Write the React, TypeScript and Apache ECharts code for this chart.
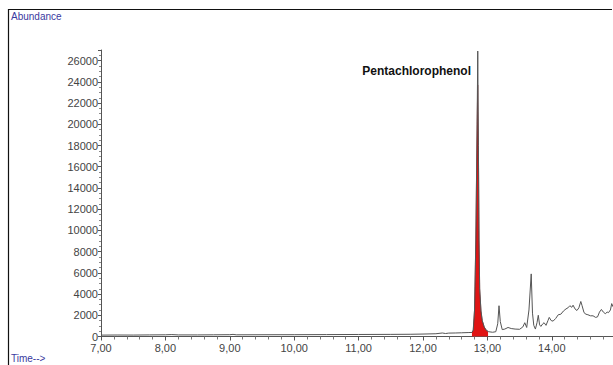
import React, { useEffect, useRef } from "react";
import * as echarts from "echarts";

const yTicks = [0, 2000, 4000, 6000, 8000, 10000, 12000, 14000, 16000, 18000, 20000, 22000, 24000, 26000];
const xTicks = [7, 8, 9, 10, 11, 12, 13, 14];

// Total ion chromatogram (time in min, abundance)
const baselineTimes = [7.0, 7.25, 7.5, 7.75, 8.0, 8.1, 8.2, 8.5, 8.75, 9.0, 9.05, 9.1, 9.5, 10.0, 10.5, 11.0, 11.5, 11.8, 12.0, 12.2, 12.3, 12.35, 12.4, 12.5, 12.6, 12.7];
const baselineValues = [130, 140, 135, 150, 160, 180, 150, 150, 160, 170, 200, 160, 165, 170, 180, 190, 200, 210, 230, 260, 330, 280, 320, 330, 350, 370];

const peakTimes = [12.76, 12.78, 12.8, 12.82, 12.84, 12.85, 12.86, 12.87, 12.88, 12.9, 12.92, 12.95, 12.98, 13.02, 13.08, 13.13, 13.16, 13.18, 13.2, 13.23];
const peakValues = [380, 600, 2500, 9000, 20000, 26900, 18000, 9000, 4500, 2400, 1500, 900, 600, 450, 400, 450, 1200, 2900, 1400, 650];

const tailTimes = [13.27, 13.32, 13.37, 13.43, 13.5, 13.55, 13.58, 13.61, 13.645, 13.68, 13.7, 13.72, 13.745, 13.77, 13.79, 13.81, 13.83, 13.86, 13.88, 13.91, 13.94, 13.96, 13.99, 14.02, 14.06, 14.1, 14.14, 14.18, 14.22, 14.25, 14.28, 14.31, 14.33, 14.36, 14.39, 14.42, 14.45, 14.47, 14.5, 14.53, 14.56, 14.6, 14.64, 14.68, 14.71, 14.74, 14.77, 14.8, 14.83, 14.86, 14.88, 14.91, 14.93, 14.95];
const tailValues = [700, 850, 750, 700, 680, 900, 1300, 850, 2500, 5900, 2200, 1050, 700, 1300, 2000, 1100, 950, 1200, 1300, 1050, 1500, 1800, 1500, 1450, 1700, 2050, 2100, 2400, 2600, 2700, 2900, 2750, 2950, 2600, 2450, 2700, 3300, 2900, 2250, 2100, 2050, 1950, 1950, 1800, 1850, 2300, 2550, 2300, 2150, 2300, 2250, 2500, 3100, 2800];

// Integrated (filled) region of the Pentachlorophenol peak
const fillTimes = [12.76, 12.78, 12.8, 12.82, 12.84, 12.85, 12.86, 12.87, 12.88, 12.9, 12.92, 12.95, 12.98, 13.01];
const fillValues = [380, 600, 2500, 9000, 20000, 23700, 18000, 9000, 4500, 2400, 1500, 900, 600, 450];

const peakLabel = "Pentachlorophenol";

export default function App() {
  const ref = useRef<HTMLDivElement>(null);
  useEffect(() => {
    if (!ref.current) return;
    const chart = echarts.init(ref.current, undefined, { renderer: "svg" });
    const times = [...baselineTimes, ...peakTimes, ...tailTimes];
    const values = [...baselineValues, ...peakValues, ...tailValues];
    const lineData = times.map((t, i) => [t, values[i]]);
    const fillData = fillTimes.map((t, i) => [t, fillValues[i]]);
    const font = "'Liberation Sans', Arial, sans-serif";
    chart.setOption({
      animation: false,
      grid: { left: 101, right: 0, top: 50, bottom: 28.5 },
      xAxis: {
        type: "value",
        min: 7,
        max: 14.95,
        interval: 1,
        axisLine: { show: true, lineStyle: { color: "#555", width: 1 } },
        axisTick: { show: true, length: 4, lineStyle: { color: "#555" } },
        minorTick: { show: true, splitNumber: 5, length: 3, lineStyle: { color: "#777" } },
        splitLine: { show: false },
        axisLabel: {
          color: "#444",
          fontSize: 11,
          fontFamily: font,
          margin: 6,
          showMaxLabel: false,
          formatter: (v: number) => (xTicks.includes(Math.round(v * 100) / 100) ? v.toFixed(2).replace(".", ",") : ""),
        },
      },
      yAxis: {
        type: "value",
        min: 0,
        max: 27000,
        interval: 2000,
        axisLine: { show: true, lineStyle: { color: "#555", width: 1 } },
        axisTick: { show: true, length: 3, lineStyle: { color: "#555" } },
        minorTick: { show: true, splitNumber: 4, length: 2, lineStyle: { color: "#888" } },
        splitLine: { show: false },
        axisLabel: {
          color: "#444",
          fontSize: 11,
          fontFamily: font,
          margin: 3,
          formatter: (v: number) => (yTicks.includes(v) ? String(v) : ""),
        },
      },
      series: [
        {
          type: "line",
          data: fillData,
          symbol: "none",
          lineStyle: { width: 0.6, color: "#8a1010" },
          areaStyle: { color: "#e01414", opacity: 1 },
          z: 2,
        },
        {
          type: "line",
          data: lineData,
          symbol: "none",
          lineStyle: { width: 1, color: "#555" },
          z: 3,
        },
      ],
      graphic: [
        { type: "line", shape: { x1: 8, y1: 9.5, x2: 612, y2: 9.5 }, style: { stroke: "#111", lineWidth: 1.2 } },
        { type: "line", shape: { x1: 8.5, y1: 9, x2: 8.5, y2: 365 }, style: { stroke: "#111", lineWidth: 1.2 } },
        { type: "text", left: 11, top: 11, style: { text: "Abundance", fill: "#3a3aa0", font: `10px ${font}` } },
        { type: "text", left: 11, top: 353, style: { text: "Time-->", fill: "#3a3aa0", font: `10px ${font}` } },
        { type: "text", right: 142, top: 65, style: { text: peakLabel, fill: "#111", font: `bold 12px ${font}` } },
      ],
    });
    return () => chart.dispose();
  }, []);
  return <div ref={ref} style={{ position: "fixed", left: 0, top: 0, width: 613, height: 365, background: "#fff" }} />;
}
